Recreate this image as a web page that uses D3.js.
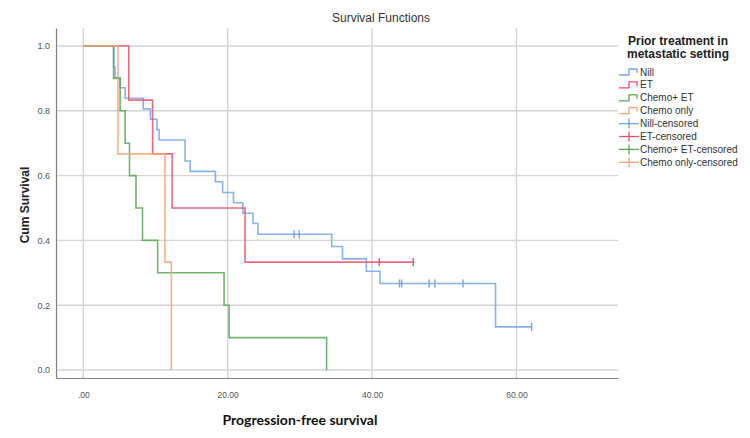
<!DOCTYPE html>
<html>
<head>
<meta charset="utf-8">
<script src="https://cdn.jsdelivr.net/npm/d3@7"></script>
<style>
  body { margin: 0; background: #fff; }
  svg text { font-family: "Liberation Sans", Arial, sans-serif; }
</style>
</head>
<body>
<svg width="750" height="438"></svg>
<script>
// groups shown in the legend
var groups = ["Nill", "ET", "Chemo+ ET", "Chemo only"];
var colors = ["#72a6ee", "#e8506c", "#55a855", "#f9a274"];

// event times and survival after each event
var nillTimes = [4.2, 4.4, 5.1, 5.8, 8.3, 9.3, 10.2, 10.5, 14.1, 14.8, 18.3, 19.3, 20.8, 22.1, 23.5, 24.2, 34.4, 35.9, 39.2, 41.1, 57.1];
var nillSurv  = [0.935, 0.903, 0.871, 0.839, 0.806, 0.774, 0.742, 0.710, 0.645, 0.613, 0.581, 0.548, 0.516, 0.484, 0.452, 0.419, 0.381, 0.343, 0.305, 0.267, 0.133];
var nillCens  = [29.2, 29.9, 43.8, 44.1, 47.9, 48.7, 52.6, 62.1];

var etTimes = [6.3, 9.6, 12.3, 22.4];
var etSurv  = [0.833, 0.667, 0.5, 0.333];
var etCens  = [41.0, 45.7];

var chemoEtTimes = [4.2, 5.1, 5.8, 6.4, 7.3, 8.2, 10.3, 19.5, 20.2, 33.7];
var chemoEtSurv  = [0.9, 0.8, 0.7, 0.6, 0.5, 0.4, 0.3, 0.2, 0.1, 0.0];
var chemoEtCens  = [];

var chemoTimes = [4.8, 11.3, 12.2];
var chemoSurv  = [0.667, 0.333, 0.0];
var chemoCens  = [];

var xTicks = [0, 20, 40, 60];
var yTicks = [0, 0.2, 0.4, 0.6, 0.8, 1.0];

var series = [
  {name: groups[0], t: nillTimes, s: nillSurv, c: nillCens},
  {name: groups[1], t: etTimes, s: etSurv, c: etCens},
  {name: groups[2], t: chemoEtTimes, s: chemoEtSurv, c: chemoEtCens},
  {name: groups[3], t: chemoTimes, s: chemoSurv, c: chemoCens}
];

var svg = d3.select("svg");
var pLeft = 56, pRight = 618, pTop = 28, pBottom = 378;

var x = d3.scaleLinear().domain([-3.78, 74.06]).range([pLeft, pRight]);
var y = d3.scaleLinear().domain([-0.0247, 1.0556]).range([pBottom, pTop]);

// grid
svg.append("g").selectAll("line").data(xTicks).enter().append("line")
  .attr("x1", d => x(d)).attr("x2", d => x(d)).attr("y1", pTop).attr("y2", pBottom)
  .attr("stroke", "#d4d4d4").attr("stroke-width", 1.4);
svg.append("g").selectAll("line").data(yTicks).enter().append("line")
  .attr("x1", pLeft).attr("x2", pRight).attr("y1", d => y(d)).attr("y2", d => y(d))
  .attr("stroke", "#d4d4d4").attr("stroke-width", 1.4);

// axes
var xAxis = d3.axisBottom(x).tickValues(xTicks).tickSize(0)
  .tickFormat(d => d3.format(".2f")(d).replace(/^0\./, "."));
var gx = svg.append("g").attr("transform", "translate(0," + pBottom + ")").call(xAxis);
gx.select(".domain").attr("stroke", "#808080").attr("stroke-width", 1.2);
gx.selectAll("text").attr("dy", "0").attr("y", 20).attr("font-size", 8.5).attr("fill", "#555");

var yAxis = d3.axisLeft(y).tickValues(yTicks).tickSize(0).tickFormat(d3.format(".1f"));
var gy = svg.append("g").attr("transform", "translate(" + pLeft + ",0)").call(yAxis);
gy.select(".domain").attr("stroke", "#808080").attr("stroke-width", 1.2);
gy.selectAll("text").attr("x", -6).attr("font-size", 9).attr("fill", "#555");

// curves
var line = d3.line().x(d => x(d[0])).y(d => y(d[1])).curve(d3.curveStepAfter);

function survAt(sr, t) {
  var v = 1;
  sr.t.forEach((tt, i) => { if (tt <= t) v = sr.s[i]; });
  return v;
}

series.forEach(function(sr, i) {
  var pts = [[0, 1]];
  sr.t.forEach((tt, j) => pts.push([tt, sr.s[j]]));
  var end = d3.max(sr.t.concat(sr.c));
  pts.push([end, survAt(sr, end)]);
  svg.append("path").datum(pts).attr("d", line)
    .attr("fill", "none").attr("stroke", colors[i]).attr("stroke-width", 1.6)
    .attr("stroke-opacity", 0.85);
  svg.append("g").selectAll("line").data(sr.c).enter().append("line")
    .attr("x1", d => x(d)).attr("x2", d => x(d))
    .attr("y1", d => y(survAt(sr, d)) - 4).attr("y2", d => y(survAt(sr, d)) + 4)
    .attr("stroke", colors[i]).attr("stroke-width", 1.4);
});

// titles
svg.append("text").attr("x", 381).attr("y", 22).attr("text-anchor", "middle")
  .attr("font-size", 12).attr("fill", "#333").text("Survival Functions");
svg.append("text").attr("transform", "translate(29,205) rotate(-90)")
  .attr("text-anchor", "middle").attr("font-size", 12).attr("font-weight", "bold")
  .attr("fill", "#222").text("Cum Survival");
svg.append("text").attr("x", 300).attr("y", 425).attr("text-anchor", "middle")
  .style("font-family", "Lato, 'Open Sans', sans-serif")
  .attr("font-size", 14).attr("font-weight", "bold").attr("fill", "#111")
  .text("Progression-free survival");

// legend
var lg = svg.append("g");
lg.append("text").attr("x", 678).attr("y", 45).attr("text-anchor", "middle")
  .attr("font-size", 12).attr("font-weight", "bold").attr("fill", "#222").text("Prior treatment in");
lg.append("text").attr("x", 678).attr("y", 58).attr("text-anchor", "middle")
  .attr("font-size", 12).attr("font-weight", "bold").attr("fill", "#222").text("metastatic setting");

var legendItems = groups.map((g, i) => ({label: g, color: colors[i], cens: false}))
  .concat(groups.map((g, i) => ({label: g + "-censored", color: colors[i], cens: true})));

legendItems.forEach(function(d, i) {
  var cy = 72 + i * 12.9;
  if (d.cens) {
    lg.append("line").attr("x1", 619).attr("x2", 639).attr("y1", cy).attr("y2", cy)
      .attr("stroke", d.color).attr("stroke-width", 1.3);
    lg.append("line").attr("x1", 629).attr("x2", 629).attr("y1", cy - 5).attr("y2", cy + 5)
      .attr("stroke", d.color).attr("stroke-width", 1.3);
  } else {
    lg.append("path").attr("d", "M619," + (cy + 3) + "H629V" + (cy - 3) + "H637V" + (cy + 1))
      .attr("fill", "none").attr("stroke", d.color).attr("stroke-width", 1.3);
  }
  lg.append("text").attr("x", 640).attr("y", cy + 3.5).attr("font-size", 10)
    .attr("fill", "#333").text(d.label);
});
</script>
</body>
</html>
